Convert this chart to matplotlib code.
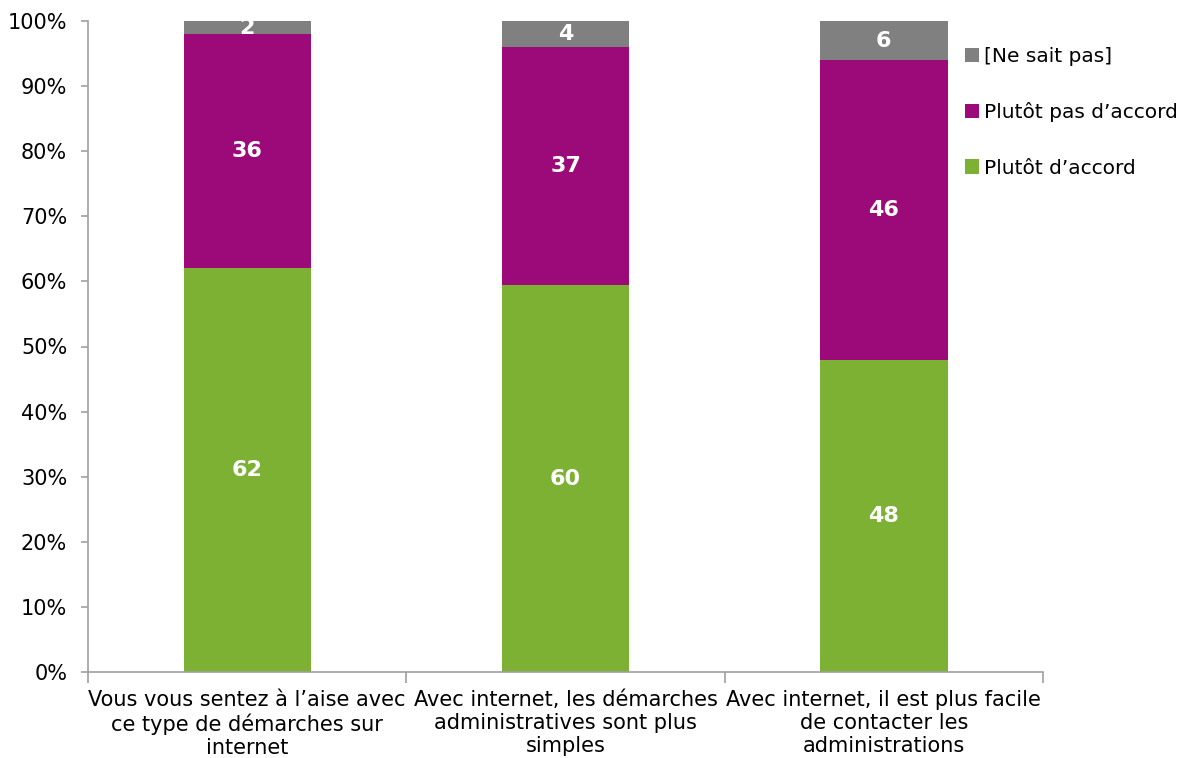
import matplotlib
matplotlib.use("Agg")
import matplotlib.pyplot as plt
from matplotlib.patches import Patch
import numpy as np

categories = [
    "Vous vous sentez à l\u2019aise avec\nce type de démarches sur\ninternet",
    "Avec internet, les démarches\nadministratives sont plus\nsimples",
    "Avec internet, il est plus facile\nde contacter les\nadministrations",
]
series_names = ["Plutôt d\u2019accord", "Plutôt pas d\u2019accord", "[Ne sait pas]"]
plutot_accord = [62, 60, 48]
plutot_pas_accord = [36, 37, 46]
ne_sait_pas = [2, 4, 6]
y_ticks = [0, 10, 20, 30, 40, 50, 60, 70, 80, 90, 100]

colors = ["#7CB133", "#9C0A7A", "#808080"]

plt.rcParams['font.family'] = ['DejaVu Sans']

fig = plt.figure(figsize=(11.84, 7.58), dpi=100)
ax = fig.add_axes([88/1184, 1 - 672/758, (1043-88)/1184, (672-21)/758])

data = np.array([plutot_accord, plutot_pas_accord, ne_sait_pas], dtype=float)
totals = data.sum(axis=0)
pct = data / totals * 100
x = np.arange(len(categories))
bottom = np.zeros(len(categories))
for i in range(3):
    ax.bar(x, pct[i], width=0.4, bottom=bottom, color=colors[i], linewidth=0, zorder=2)
    for j in range(len(categories)):
        ax.text(x[j], bottom[j] + pct[i][j] / 2, f"{int(data[i][j])}",
                ha="center", va="center", color="white", fontsize=16,
                fontweight="bold", zorder=3)
    bottom += pct[i]

ax.set_xlim(-0.5, 2.5)
ax.set_ylim(0, 100)
ax.set_yticks(y_ticks)
ax.set_yticklabels([f"{t}%" for t in y_ticks], fontsize=15)
ax.set_xticks(x)
ax.set_xticklabels(categories, fontsize=15, linespacing=1.2)
ax.tick_params(axis="x", length=0, pad=13)
ax.set_xticks([-0.5, 0.5, 1.5, 2.5], minor=True)
ax.tick_params(axis="x", which="minor", length=8, color="#A0A0A0", width=1.2)
ax.tick_params(axis="y", length=5, color="#A0A0A0", width=1.2, pad=10)
for s in ["top", "right"]:
    ax.spines[s].set_visible(False)
for s in ["left", "bottom"]:
    ax.spines[s].set_color("#A0A0A0")
    ax.spines[s].set_linewidth(1.2)

handles = [Patch(facecolor=colors[i], edgecolor="none") for i in [2, 1, 0]]
labels = [series_names[i] for i in [2, 1, 0]]
fig.legend(handles, labels, loc="upper left", bbox_to_anchor=(957/1184, 1 - 39/758),
           frameon=False, fontsize=14.5, handlelength=0.7, handleheight=0.7,
           handletextpad=0.25, labelspacing=1.8, borderaxespad=0)

fig.savefig("out.png", dpi=100)
